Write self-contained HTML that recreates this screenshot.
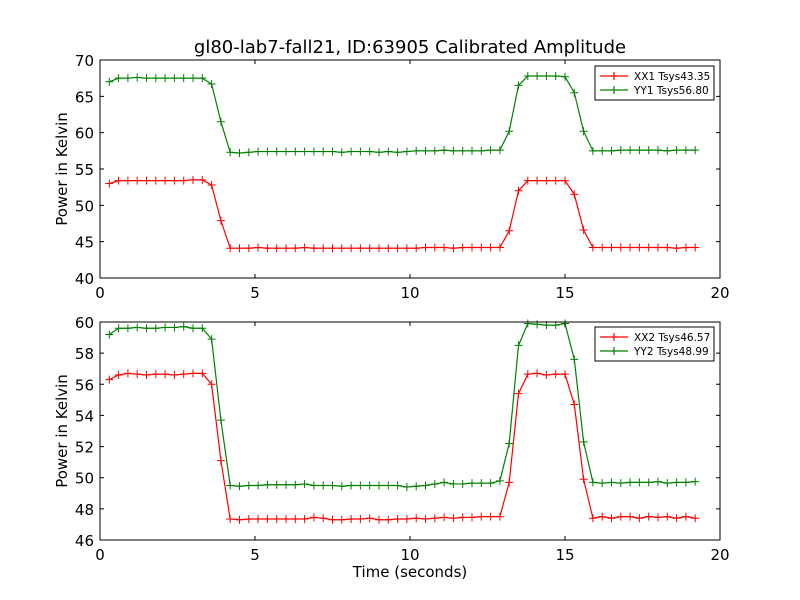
<!DOCTYPE html>
<html><head><meta charset="utf-8"><style>
body{margin:0;background:#fff;}
svg{display:block;font-family:"DejaVu Sans","Liberation Sans",sans-serif;}
</style></head><body>
<svg id="fig" width="800" height="600" viewBox="0 0 800 600">
<rect width="800" height="600" fill="#fff"/>
<text x="410" y="53" text-anchor="middle" font-size="18">gl80-lab7-fall21, ID:63905 Calibrated Amplitude</text>
<text x="410" y="577" text-anchor="middle" font-size="15">Time (seconds)</text>
<g id="p1"></g>
<g id="p2"></g>
</svg>
<script>
const xx1 = [53.0,53.4,53.4,53.4,53.4,53.4,53.4,53.4,53.4,53.5,53.5,52.8,47.9,44.1,44.1,44.1,44.2,44.1,44.1,44.1,44.1,44.2,44.1,44.1,44.1,44.1,44.1,44.1,44.1,44.1,44.1,44.1,44.1,44.1,44.2,44.2,44.2,44.1,44.2,44.2,44.2,44.2,44.2,46.5,52.0,53.4,53.4,53.4,53.4,53.4,51.5,46.6,44.2,44.2,44.2,44.2,44.2,44.2,44.2,44.2,44.2,44.1,44.2,44.2];
const yy1 = [67.0,67.5,67.5,67.6,67.5,67.5,67.5,67.5,67.5,67.5,67.5,66.7,61.5,57.3,57.2,57.3,57.4,57.4,57.4,57.4,57.4,57.4,57.4,57.4,57.4,57.3,57.4,57.4,57.4,57.3,57.4,57.3,57.4,57.5,57.5,57.5,57.6,57.5,57.5,57.5,57.5,57.6,57.6,60.2,66.5,67.8,67.8,67.8,67.8,67.7,65.5,60.2,57.5,57.5,57.5,57.6,57.6,57.6,57.6,57.6,57.5,57.6,57.6,57.6];
const xx2 = [56.3,56.6,56.7,56.65,56.6,56.65,56.65,56.6,56.65,56.7,56.7,56.0,51.1,47.35,47.3,47.35,47.35,47.35,47.35,47.35,47.35,47.35,47.45,47.4,47.3,47.3,47.35,47.35,47.4,47.3,47.3,47.35,47.35,47.4,47.35,47.4,47.45,47.4,47.45,47.45,47.5,47.5,47.5,49.7,55.4,56.65,56.7,56.6,56.65,56.65,54.7,49.9,47.4,47.5,47.4,47.5,47.5,47.4,47.5,47.45,47.5,47.4,47.5,47.4];
const yy2 = [59.2,59.6,59.6,59.65,59.6,59.6,59.65,59.65,59.7,59.6,59.6,58.9,53.7,49.5,49.45,49.5,49.5,49.55,49.55,49.55,49.55,49.6,49.5,49.5,49.5,49.45,49.5,49.5,49.5,49.5,49.5,49.5,49.4,49.45,49.5,49.6,49.7,49.6,49.6,49.65,49.65,49.65,49.8,52.2,58.5,59.9,59.85,59.8,59.8,59.9,57.6,52.3,49.7,49.65,49.7,49.65,49.7,49.7,49.7,49.75,49.65,49.7,49.7,49.75];
const times = xx1.map((_, i) => +(0.3 * (i + 1)).toFixed(1));
const xTicks = [0,5,10,15,20];
const yTicks1 = [40,45,50,55,60,65,70];
const yTicks2 = [46,48,50,52,54,56,58,60];
const legend1 = ["XX1 Tsys43.35","YY1 Tsys56.80"];
const legend2 = ["XX2 Tsys46.57","YY2 Tsys48.99"];

const NS = "http://www.w3.org/2000/svg";
function mk(tag, attrs, parent){const e=document.createElementNS(NS,tag);for(const k in attrs)e.setAttribute(k,attrs[k]);parent.appendChild(e);return e;}

function plot(g, top, bottom, ymin, ymax, yTicks, series, labels, legTop){
  const L=100,R=720;
  const sx=v=>L+(v-0)/(20-0)*(R-L);
  const sy=v=>bottom-(v-ymin)/(ymax-ymin)*(bottom-top);
  const colors=["#ff0000","#008000"];
  series.forEach((s,si)=>{
    const pl=mk("polyline",{points:s.map((v,i)=>sx(times[i])+","+sy(v)).join(" "),fill:"none",stroke:colors[si],"stroke-width":1.2},g);
    
    
    s.forEach((v,i)=>{
      const x=sx(times[i]),y=sy(v);
      const m=mk("path",{d:`M${x-4},${y}H${x+4}M${x},${y-4}V${y+4}`,stroke:colors[si],"stroke-width":1},g);
      
      
    });
  });
  const frame=mk("rect",{x:L,y:top,width:R-L,height:bottom-top,fill:"none",stroke:"#000","stroke-width":1},g);
  
  
  xTicks.forEach(t=>{
    const x=sx(t);
    mk("path",{d:`M${x},${bottom}v-4M${x},${top}v4`,stroke:"#000"},g);
    const tx=mk("text",{x:x,y:bottom+20,"text-anchor":"middle","font-size":15},g);
    tx.textContent=t;
    
    
  });
  yTicks.forEach(t=>{
    const y=sy(t);
    mk("path",{d:`M${L},${y}h4M${R},${y}h-4`,stroke:"#000"},g);
    const tx=mk("text",{x:L-6,y:y+6,"text-anchor":"end","font-size":15},g);
    tx.textContent=t;
    
    
  });
  const yl=mk("text",{x:0,y:0,"text-anchor":"middle","font-size":15,transform:`translate(67,${(top+bottom)/2}) rotate(-90)`},g);
  yl.textContent="Power in Kelvin";
  
  
  const lg=mk("g",{},g);
  
  
  mk("rect",{x:595,y:legTop,width:119,height:34,fill:"#fff",stroke:"#000","stroke-width":1},lg);
  labels.forEach((lab,i)=>{
    const y=legTop+10+i*14;
    const ln=mk("path",{d:`M600,${y}h28M614,${y-4}v8`,stroke:colors[i],"stroke-width":1.2},lg);
    
    
    const tx=mk("text",{x:634,y:y+4,"font-size":10.5},lg);
    tx.textContent=lab;
    
    
  });
}
plot(document.getElementById("p1"),60,278,40,70,yTicks1,[xx1,yy1],legend1,66);
plot(document.getElementById("p2"),322,540,46,60,yTicks2,[xx2,yy2],legend2,327);
</script>
</body></html>
